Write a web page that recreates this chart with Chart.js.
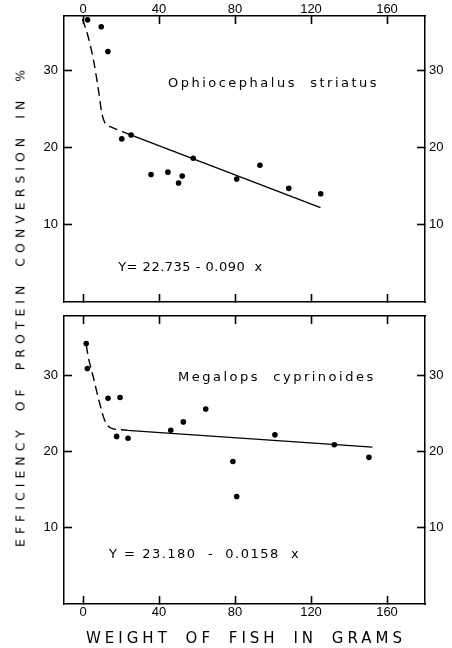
<!DOCTYPE html>
<html>
<head>
<meta charset="utf-8">
<script src="https://cdn.jsdelivr.net/npm/chart.js@4.4.1/dist/chart.umd.min.js"></script>
<style>
  html, body { margin: 0; padding: 0; background: #fff; }
  #wrap { position: relative; width: 452px; height: 648px; overflow: hidden; }
  #wrap canvas { position: absolute; left: 0; }
  /* the two canvases overlap a little; both are transparent */
  #topChart { top: -10px; }
  #bottomChart { top: 290px; }
  .ytitle {
    position: absolute; left: 20px; top: 306px;
    transform: translate(-50%, -50%) rotate(-90deg);
    white-space: nowrap; font: 12.5px 'DejaVu Sans'; color: #000;
    letter-spacing: 5px; word-spacing: 5px;
  }
  .xtitle {
    position: absolute; left: 246px; top: 638px;
    transform: translate(-50%, -50%);
    white-space: nowrap; font: 15px 'DejaVu Sans'; color: #000;
    letter-spacing: 4px; word-spacing: 6px;
  }
</style>
</head>
<body>
<div id="wrap">
  <canvas id="topChart" width="452" height="340"></canvas>
  <canvas id="bottomChart" width="452" height="358"></canvas>
  <div class="ytitle">EFFICIENCY OF PROTEIN CONVERSION IN %</div>
  <div class="xtitle">WEIGHT OF FISH IN GRAMS</div>
</div>
<script>
// axis ticks
const xTicks = [0, 40, 80, 120, 160];
const yTicks = [10, 20, 30];

// Ophiocephalus striatus (top panel)
const topX = [2.4, 9.6, 13.1, 20.4, 25.3, 35.8, 44.7, 50.3, 52.2, 58.0, 80.9, 93.1, 108.3, 125.1];
const topY = [36.5, 35.6, 32.4, 21.1, 21.6, 16.5, 16.8, 15.4, 16.3, 18.6, 15.9, 17.7, 14.7, 14.0];
const topCurveX = [-0.3, 2.4, 5.6, 8.2, 10.0, 11.7, 15.2, 18.0, 22.0];
const topCurveY = [36.6, 34.6, 31.2, 27.3, 24.3, 23.1, 22.6, 22.3, 21.9];
const topFitX = [22, 125];
const topFitY = [21.9, 12.2];

// Megalops cyprinoides (bottom panel)
const botX = [1.7, 2.3, 13.2, 17.7, 19.5, 23.7, 46.2, 52.8, 64.6, 78.9, 80.9, 101.0, 132.3, 150.5];
const botY = [34.2, 30.9, 27.0, 22.0, 27.1, 21.75, 22.8, 23.9, 25.6, 18.7, 14.1, 22.2, 20.9, 19.25];
const botCurveX = [1.7, 2.8, 5.4, 8.4, 11.6, 14.6, 19.0, 23.3];
const botCurveY = [34.0, 32.4, 29.8, 26.7, 24.0, 23.1, 22.9, 22.8];
const botFitX = [23.3, 152.3];
const botFitY = [22.8, 20.6];

const topLabels = ['Ophiocephalus  striatus', 'Y= 22.735 - 0.090  x'];
const botLabels = ['Megalops  cyprinoides', 'Y = 23.180  -  0.0158  x'];

const INK = '#000';
const TICK_LEN = 8;
const tickFont = { family: "'Liberation Sans', Arial, sans-serif", size: 13 };

const pts = (xs, ys) => xs.map((x, i) => ({ x: x, y: ys[i] }));

// species name and regression equation inside the frame
const panelText = {
  id: 'panelText',
  afterDraw(chart, args, opts) {
    const { ctx, scales } = chart;
    ctx.save();
    ctx.fillStyle = INK;
    ctx.font = "13px 'DejaVu Sans'";
    ctx.textBaseline = 'middle';
    ctx.textAlign = 'left';
    opts.items.forEach(it => {
      ctx.letterSpacing = it.spacing + 'px';
      ctx.fillText(it.text, scales.x.getPixelForValue(it.x), scales.y.getPixelForValue(it.y));
    });
    ctx.restore();
  }
};

function makeScales(cfg) {
  // negative tick length -> tick marks point into the plot frame
  const common = (pos) => ({
    type: 'linear',
    position: pos,
    grid: {
      display: true, drawOnChartArea: false, drawTicks: true,
      tickLength: -TICK_LEN, tickColor: INK, tickWidth: 1.6
    },
    border: { display: true, color: INK, width: 1.5 }
  });
  return {
    x: Object.assign(common('bottom'), {
      min: -10, max: 180,
      ticks: { display: cfg.bottomLabels, font: tickFont, color: INK, padding: 9, maxRotation: 0 },
      afterBuildTicks: s => { s.ticks = xTicks.map(v => ({ value: v })); },
      afterFit: s => { s.height = cfg.bottomH; }
    }),
    x2: Object.assign(common('top'), {
      min: -10, max: 180,
      ticks: { display: cfg.topLabels, font: tickFont, color: INK, padding: 7, maxRotation: 0 },
      afterBuildTicks: s => { s.ticks = xTicks.map(v => ({ value: v })); },
      afterFit: s => { s.height = cfg.topH; }
    }),
    y: Object.assign(common('left'), {
      min: 0, max: cfg.yMax,
      ticks: { font: tickFont, color: INK, padding: 14 },
      afterBuildTicks: s => { s.ticks = yTicks.map(v => ({ value: v })); },
      afterFit: s => { s.width = 64; }
    }),
    y2: Object.assign(common('right'), {
      min: 0, max: cfg.yMax,
      ticks: { font: tickFont, color: INK, padding: 12 },
      afterBuildTicks: s => { s.ticks = yTicks.map(v => ({ value: v })); },
      afterFit: s => { s.width = 27; }
    })
  };
}

function makeDatasets(px, py, cx, cy, fx, fy) {
  return [
    {
      data: pts(px, py),
      pointRadius: 2.8,
      pointBackgroundColor: INK,
      pointBorderWidth: 0,
      showLine: false
    },
    {
      data: pts(cx, cy),
      showLine: true,
      borderColor: INK,
      borderWidth: 1.4,
      borderDash: [9, 5],
      cubicInterpolationMode: 'monotone',
      pointRadius: 0
    },
    {
      data: pts(fx, fy),
      showLine: true,
      borderColor: INK,
      borderWidth: 1.3,
      pointRadius: 0
    }
  ];
}

function makeChart(id, datasets, scaleCfg, items) {
  return new Chart(document.getElementById(id), {
    type: 'scatter',
    data: { datasets: datasets },
    options: {
      responsive: false,
      animation: false,
      devicePixelRatio: 1,
      layout: { padding: 0, autoPadding: false },
      events: [],
      plugins: {
        legend: { display: false },
        tooltip: { enabled: false },
        panelText: { items: items }
      },
      scales: makeScales(scaleCfg)
    },
    plugins: [panelText]
  });
}

makeChart('topChart',
  makeDatasets(topX, topY, topCurveX, topCurveY, topFitX, topFitY),
  { topLabels: true, bottomLabels: false, topH: 26, bottomH: 28, yMax: 37 },
  [
    { text: topLabels[0], x: 44.7, y: 28.3, spacing: 2.5 },
    { text: topLabels[1], x: 18.5, y: 4.45, spacing: 0.5 }
  ]);

makeChart('bottomChart',
  makeDatasets(botX, botY, botCurveX, botCurveY, botFitX, botFitY),
  { topLabels: false, bottomLabels: true, topH: 26, bottomH: 44, yMax: 37.8 },
  [
    { text: botLabels[0], x: 50, y: 29.7, spacing: 2.5 },
    { text: botLabels[1], x: 13.7, y: 6.45, spacing: 1.5 }
  ]);
</script>
</body>
</html>
